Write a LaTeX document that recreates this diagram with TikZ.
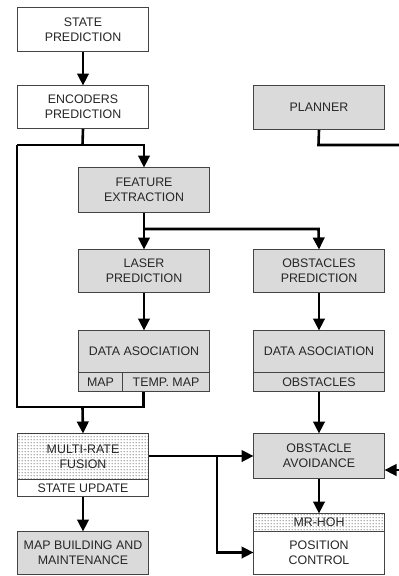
\documentclass[tikz,border=0pt]{standalone}
\usepackage{fontspec}
\setmainfont{Liberation Sans}
\usetikzlibrary{arrows.meta,patterns}
\definecolor{boxgray}{HTML}{DADADA}
\definecolor{edgegray}{HTML}{444444}
\definecolor{txt}{HTML}{262626}
\pgfdeclarepatternformonly{bigdots}{\pgfpointorigin}{\pgfpoint{3pt}{3pt}}{\pgfpoint{3pt}{3pt}}{%
  \pgfpathcircle{\pgfpoint{1.5pt}{1.5pt}}{0.65pt}\pgfusepath{fill}}
\tikzset{
  box/.style={draw=edgegray, line width=1pt, minimum width=131pt, inner sep=0pt, align=center,
    text=txt, font=\fontsize{12.4}{15}\selectfont, anchor=north west},
  wbox/.style={box, fill=white},
  gbox/.style={box, fill=boxgray},
  dbox/.style={box, fill=white, postaction={pattern=bigdots, pattern color=black!85}},
  conn/.style={line width=2.6pt, draw=black},
  arr/.style={conn, -{Triangle[length=12pt,width=11.5pt]}, shorten >=-0.5pt},
}
\begin{document}
\begin{tikzpicture}[x=1pt,y=-1pt]
\useasboundingbox (0,0) rectangle (399,576);
% boxes
\node[wbox, minimum height=44pt] (sp) at (17,7) {STATE\\PREDICTION};
\node[wbox, minimum height=43pt] (ep) at (17,85) {ENCODERS\\PREDICTION};
\node[gbox, minimum height=44pt] (pl) at (253,85) {PLANNER};
\node[gbox, minimum height=45pt] (fe) at (78,167) {FEATURE\\EXTRACTION};
\node[gbox, minimum height=43pt] (lp) at (78,249) {LASER\\PREDICTION};
\node[gbox, minimum height=43pt] (op) at (253,249) {OBSTACLES\\PREDICTION};
\node[gbox, minimum height=42pt] (dal) at (78,330) {DATA ASOCIATION};
\node[gbox, minimum width=44pt, minimum height=19pt] (map) at (78,372) {MAP};
\node[gbox, minimum width=87pt, minimum height=19pt] (tmap) at (122,372) {TEMP. MAP};
\node[gbox, minimum height=42pt] (dar) at (253,330) {DATA ASOCIATION};
\node[gbox, minimum height=19pt] (obs) at (253,372) {OBSTACLES};
\node[dbox, minimum height=46pt] (mrf) at (17,433) {MULTI-RATE\\FUSION};
\node[wbox, minimum height=17pt] (su) at (17,479) {STATE UPDATE};
\node[gbox, minimum height=45pt] (oa) at (253,433) {OBSTACLE\\AVOIDANCE};
\node[gbox, minimum height=43pt] (mb) at (17,531) {MAP BUILDING AND\\MAINTENANCE};
\node[dbox, minimum height=18pt] (mr) at (253,513) {MR-HOH};
\node[wbox, minimum height=43pt] (pc) at (253,531) {POSITION\\CONTROL};
% helper coordinates
\coordinate (j1) at (82.5,145);
\coordinate (l1) at (17,145);
\coordinate (l2) at (17,407);
\coordinate (j2) at (82.5,407);
\coordinate (r2) at (143.5,407);
\coordinate (j3) at (143.5,229);
\coordinate (j4) at (318.5,229);
\coordinate (p1) at (318.5,145);
\coordinate (pr) at (400,145);
\coordinate (ar) at (400,470);
\coordinate (j5) at (217,456);
\coordinate (j6) at (217,552.5);
% connectors
\draw[arr] (sp.south) -- (ep.north);
\draw[conn] (ep.south) -- (j1);
\draw[arr] (l1) -- (fe.north |- l1) -- (fe.north);
\draw[conn, line join=miter] (tmap.south -| r2) -- (r2) -- (l2) -- (l1);
\draw[arr] (j2) -- (mrf.north);
\draw[arr] (fe.south) -- (lp.north);
\draw[arr] (j3) -- (j4) -- (op.north);
\draw[arr] (lp.south) -- (dal.north);
\draw[arr] (op.south) -- (dar.north);
\draw[arr] (obs.south) -- (oa.north);
\draw[conn] (pl.south) -- (p1) -- (pr);
\draw[arr] (ar) -- (ar -| oa.east);
\draw[arr] (mrf.east |- j5) -- (oa.west |- j5);
\draw[arr] (j5) -- (j6) -- (pc.west |- j6);
\draw[arr] (su.south) -- (mb.north);
\draw[arr] (oa.south) -- (mr.north);
\end{tikzpicture}
\end{document}
